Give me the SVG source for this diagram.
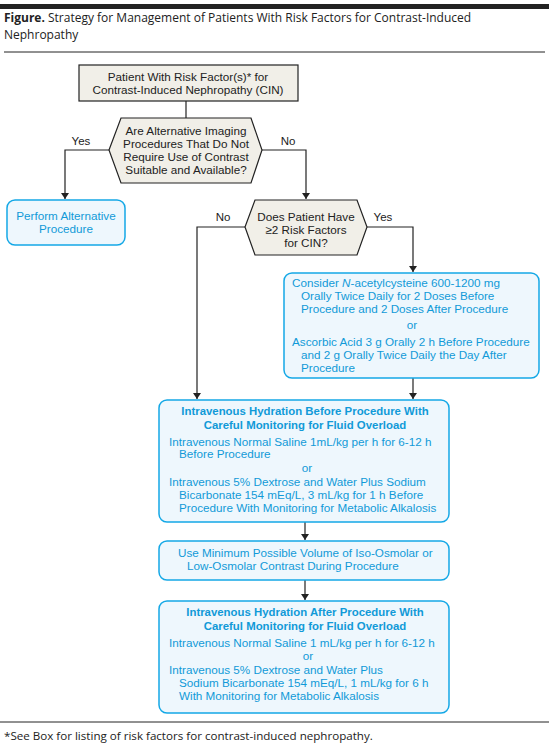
<svg xmlns="http://www.w3.org/2000/svg" width="549" height="747" viewBox="0 0 549 747">
<defs>
<marker id="ah" viewBox="0 0 6 8" refX="6" refY="4" markerWidth="6" markerHeight="8" orient="auto" markerUnits="userSpaceOnUse">
<path d="M0,0 L6,4 L0,8 z" fill="#222"/>
</marker>
</defs>
<style>
.cap{font-family:"Open Sans","Liberation Sans",sans-serif;font-size:12px;fill:#222}
.foot{font-family:"Open Sans","Liberation Sans",sans-serif;font-size:11.6px;fill:#222}
.t{font-family:"Liberation Sans",Arial,sans-serif;font-size:11.7px;fill:#222}
.b{font-family:"Liberation Sans",Arial,sans-serif;font-size:11.7px;fill:#119ad8}
.bh{font-family:"Liberation Sans",Arial,sans-serif;font-size:11.4px;fill:#119ad8;font-weight:bold}
.lbl{font-family:"Liberation Sans",Arial,sans-serif;font-size:11.5px;fill:#222}
.gray{fill:#f1efe8;stroke:#222;stroke-width:1.2}
.blue{fill:#eef7fd;stroke:#14a8e6;stroke-width:1.5}
.c{fill:none;stroke:#222;stroke-width:1.2}
</style>
<rect x="0" y="4" width="549" height="5" fill="#222"/>
<text class="cap" x="4" y="22"><tspan font-weight="bold">Figure.</tspan> Strategy for Management of Patients With Risk Factors for Contrast-Induced</text>
<text class="cap" x="4" y="39">Nephropathy</text>
<line x1="4" y1="52" x2="545" y2="52" stroke="#222" stroke-width="1"/>

<g id="connectors">
<line class="c" x1="186" y1="101" x2="186" y2="118"/>
<polyline class="c" points="109,150 65,150 65,199" marker-end="url(#ah)"/>
<polyline class="c" points="262,150 306,150 306,199" marker-end="url(#ah)"/>
<polyline class="c" points="245,227 197,227 197,399" marker-end="url(#ah)"/>
<polyline class="c" points="367,227 413,227 413,272" marker-end="url(#ah)"/>
<line class="c" x1="413" y1="378" x2="413" y2="399" marker-end="url(#ah)"/>
<line class="c" x1="305" y1="522" x2="305" y2="540" marker-end="url(#ah)"/>
<line class="c" x1="305" y1="580" x2="305" y2="600" marker-end="url(#ah)"/>
<text class="lbl" x="81" y="145" text-anchor="middle">Yes</text>
<text class="lbl" x="288" y="145" text-anchor="middle">No</text>
<text class="lbl" x="223" y="221" text-anchor="middle">No</text>
<text class="lbl" x="383" y="221" text-anchor="middle">Yes</text>
</g>

<g id="start">
<rect class="gray" x="79" y="65" width="219" height="36"/>
<text class="t" x="188" y="81" text-anchor="middle">Patient With Risk Factor(s)* for</text>
<text class="t" x="188" y="94" text-anchor="middle">Contrast-Induced Nephropathy (CIN)</text>
</g>

<g id="q1">
<polygon class="gray" points="121,118 251,118 262,150 251,183 121,183 109,150"/>
<text class="t" x="186" y="135" text-anchor="middle">Are Alternative Imaging</text>
<text class="t" x="186" y="148" text-anchor="middle">Procedures That Do Not</text>
<text class="t" x="186" y="161" text-anchor="middle">Require Use of Contrast</text>
<text class="t" x="186" y="174" text-anchor="middle">Suitable and Available?</text>
</g>

<g id="alt">
<rect class="blue" x="7" y="200" width="118" height="45" rx="8"/>
<text class="b" x="66" y="220" text-anchor="middle">Perform Alternative</text>
<text class="b" x="66" y="233" text-anchor="middle">Procedure</text>
</g>

<g id="q2">
<polygon class="gray" points="255,200 357,200 367,227 357,255 255,255 245,227"/>
<text class="t" x="306" y="221" text-anchor="middle">Does Patient Have</text>
<text class="t" x="306" y="234" text-anchor="middle">≥2 Risk Factors</text>
<text class="t" x="306" y="247" text-anchor="middle">for CIN?</text>
</g>

<g id="nac">
<rect class="blue" x="284" y="273" width="255" height="105" rx="8"/>
<text class="b" x="292" y="287">Consider <tspan font-style="italic">N</tspan>-acetylcysteine 600-1200 mg</text>
<text class="b" x="301" y="300">Orally Twice Daily for 2 Doses Before</text>
<text class="b" x="301" y="313">Procedure and 2 Doses After Procedure</text>
<text class="b" x="412" y="329" text-anchor="middle">or</text>
<text class="b" x="292" y="346">Ascorbic Acid 3 g Orally 2 h Before Procedure</text>
<text class="b" x="301" y="359">and 2 g Orally Twice Daily the Day After</text>
<text class="b" x="301" y="372">Procedure</text>
</g>

<g id="hydrBefore">
<rect class="blue" x="159" y="400" width="290" height="122" rx="8"/>
<text class="bh" x="305" y="415" text-anchor="middle">Intravenous Hydration Before Procedure With</text>
<text class="bh" x="305" y="429" text-anchor="middle">Careful Monitoring for Fluid Overload</text>
<text class="b" x="169" y="446">Intravenous Normal Saline 1mL/kg per h for 6-12 h</text>
<text class="b" x="179" y="458">Before Procedure</text>
<text class="b" x="307" y="472" text-anchor="middle">or</text>
<text class="b" x="169" y="486">Intravenous 5% Dextrose and Water Plus Sodium</text>
<text class="b" x="179" y="499">Bicarbonate 154 mEq/L, 3 mL/kg for 1 h Before</text>
<text class="b" x="179" y="512">Procedure With Monitoring for Metabolic Alkalosis</text>
</g>

<g id="minVolume">
<rect class="blue" x="159" y="541" width="290" height="39" rx="8"/>
<text class="b" x="178" y="557">Use Minimum Possible Volume of Iso-Osmolar or</text>
<text class="b" x="187" y="570">Low-Osmolar Contrast During Procedure</text>
</g>

<g id="hydrAfter">
<rect class="blue" x="159" y="601" width="290" height="112" rx="8"/>
<text class="bh" x="305" y="616" text-anchor="middle">Intravenous Hydration After Procedure With</text>
<text class="bh" x="305" y="630" text-anchor="middle">Careful Monitoring for Fluid Overload</text>
<text class="b" x="169" y="647">Intravenous Normal Saline 1 mL/kg per h for 6-12 h</text>
<text class="b" x="308" y="660" text-anchor="middle">or</text>
<text class="b" x="169" y="674">Intravenous 5% Dextrose and Water Plus</text>
<text class="b" x="179" y="687">Sodium Bicarbonate 154 mEq/L, 1 mL/kg for 6 h</text>
<text class="b" x="179" y="700">With Monitoring for Metabolic Alkalosis</text>
</g>

<line x1="0" y1="722" x2="549" y2="722" stroke="#222" stroke-width="1"/>
<text class="foot" x="4" y="740">*See Box for listing of risk factors for contrast-induced nephropathy.</text>
</svg>
